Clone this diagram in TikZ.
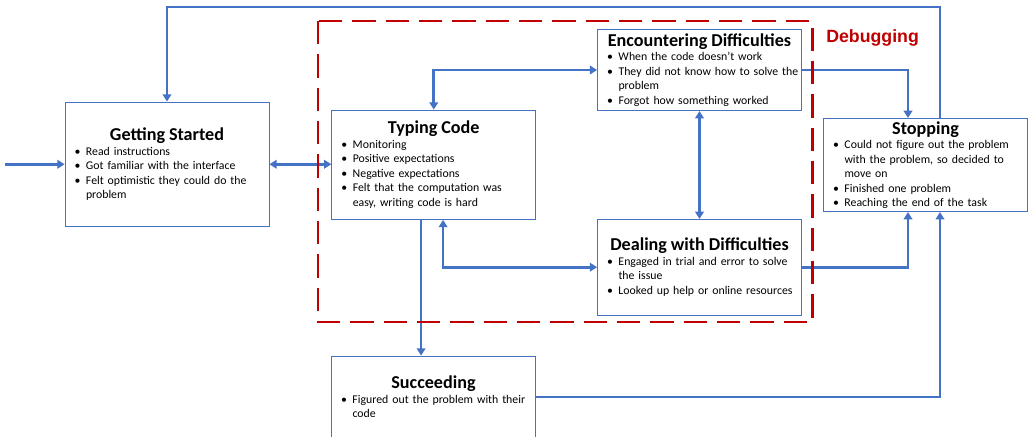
\documentclass[tikz,border=0pt]{standalone}
\usepackage{fontspec}
\setmainfont{Carlito}
\newfontfamily\debugfont{Liberation Sans}
\usetikzlibrary{arrows.meta}
\definecolor{flowblue}{HTML}{4472C4}
\definecolor{debugred}{HTML}{C00000}
\newcommand{\stagetitle}[1]{{\centering\fontsize{13.6}{15}\selectfont\bfseries #1\par}}
\newcommand{\stageitem}[1]{\par\noindent\hangindent=9.75pt\hangafter=1\hbox to 9.75pt{\hspace{1.2pt}\textbullet\hfil}#1\par}

\begin{document}
\begin{tikzpicture}[x=0.75pt,y=-0.75pt,
		stagebox/.style={draw=flowblue, line width=0.6pt, fill=white, text width=141pt, inner xsep=6pt, inner ysep=0pt, align=left, font=\fontsize{8.85}{10.9}\selectfont},
		flow/.style={draw=flowblue, line width=2pt, -{Triangle[length=5.5pt,width=6.5pt]}},
		both/.style={flow, {Triangle[length=5.5pt,width=6.5pt]}-{Triangle[length=5.5pt,width=6.5pt]}}]
		\useasboundingbox (0,0) rectangle (1028,436);
		\node[stagebox, minimum height=93.4pt] (start) at (167,164.25) {\stagetitle{Getting Started}
			\stageitem{Read instructions}
			\stageitem{\mbox{Got familiar with the interface}}
			\stageitem{\mbox{Felt optimistic they could do the}\newline problem}};
		\node[stagebox, minimum height=82.1pt] (typing) at (433.75,164.75) {\stagetitle{Typing Code}
			\stageitem{Monitoring}
			\stageitem{Positive expectations}
			\stageitem{Negative expectations}
			\stageitem{\mbox{Felt that the computation was}\newline \mbox{easy, writing code is hard}}};
		\node[stagebox, minimum height=61pt] (enc) at (699.5,70) {\stagetitle{Encountering Difficulties}
			\stageitem{\mbox{When the code doesn't work}}
			\stageitem{\mbox{They did not know how to solve the}\newline problem}
			\stageitem{\mbox{Forgot how something worked}}};
		\node[stagebox, minimum height=71.8pt] (deal) at (699.5,267.2) {\stagetitle{Dealing with Difficulties}
			\stageitem{\mbox{Engaged in trial and error to solve}\newline the issue}
			\stageitem{\mbox{Looked up help or online resources}}};
		\node[stagebox, minimum height=70pt] (stop) at (925.5,165) {\stagetitle{Stopping}
			\stageitem{\mbox{Could not figure out the problem}\newline \mbox{with the problem, so decided to}\newline move on}
			\stageitem{Finished one problem}
			\stageitem{\mbox{Reaching the end of the task}}};
		\node[stagebox, minimum height=61.5pt] (succ) at (433.5,397) {\stagetitle{Succeeding}
			\stageitem{\mbox{Figured out the problem with their}\newline code}};
		\node[anchor=base west, inner sep=0pt, text=debugred, font=\debugfont\bfseries\fontsize{13.3}{16}\selectfont] (debuglabel) at (826,42.7) {Debugging};
		\coordinate (entry) at (5,164.25);
		\coordinate (ceiling) at (500,7);
		\draw[flow] (entry) -- (start.west);
		\draw[both] (start.east) -- (start.east -| typing.west);
		\draw[both] (typing.north) |- (enc.west);
		\draw[both] (enc.south) -- (enc.south |- deal.north);
		\draw[both] ([xshift=7pt]typing.south) |- (deal.west);
		\draw[flow] ([xshift=-9.5pt]typing.south) -- ([xshift=-9.5pt]typing.south |- succ.north);
		\draw[flow] (enc.east) -| ([xshift=-13.125pt]stop.north);
		\draw[flow] ([xshift=10.875pt]stop.north) |- (ceiling) -| (start.north);
		\draw[flow] (deal.east) -| ([xshift=-13.125pt]stop.south);
		\draw[flow] (succ.east) -| ([xshift=10.875pt]stop.south);
		\draw[debugred, line width=2pt, dash pattern=on 17.5pt off 7.5pt] (318,21) rectangle (812.5,322);
	\end{tikzpicture}
\end{document}
